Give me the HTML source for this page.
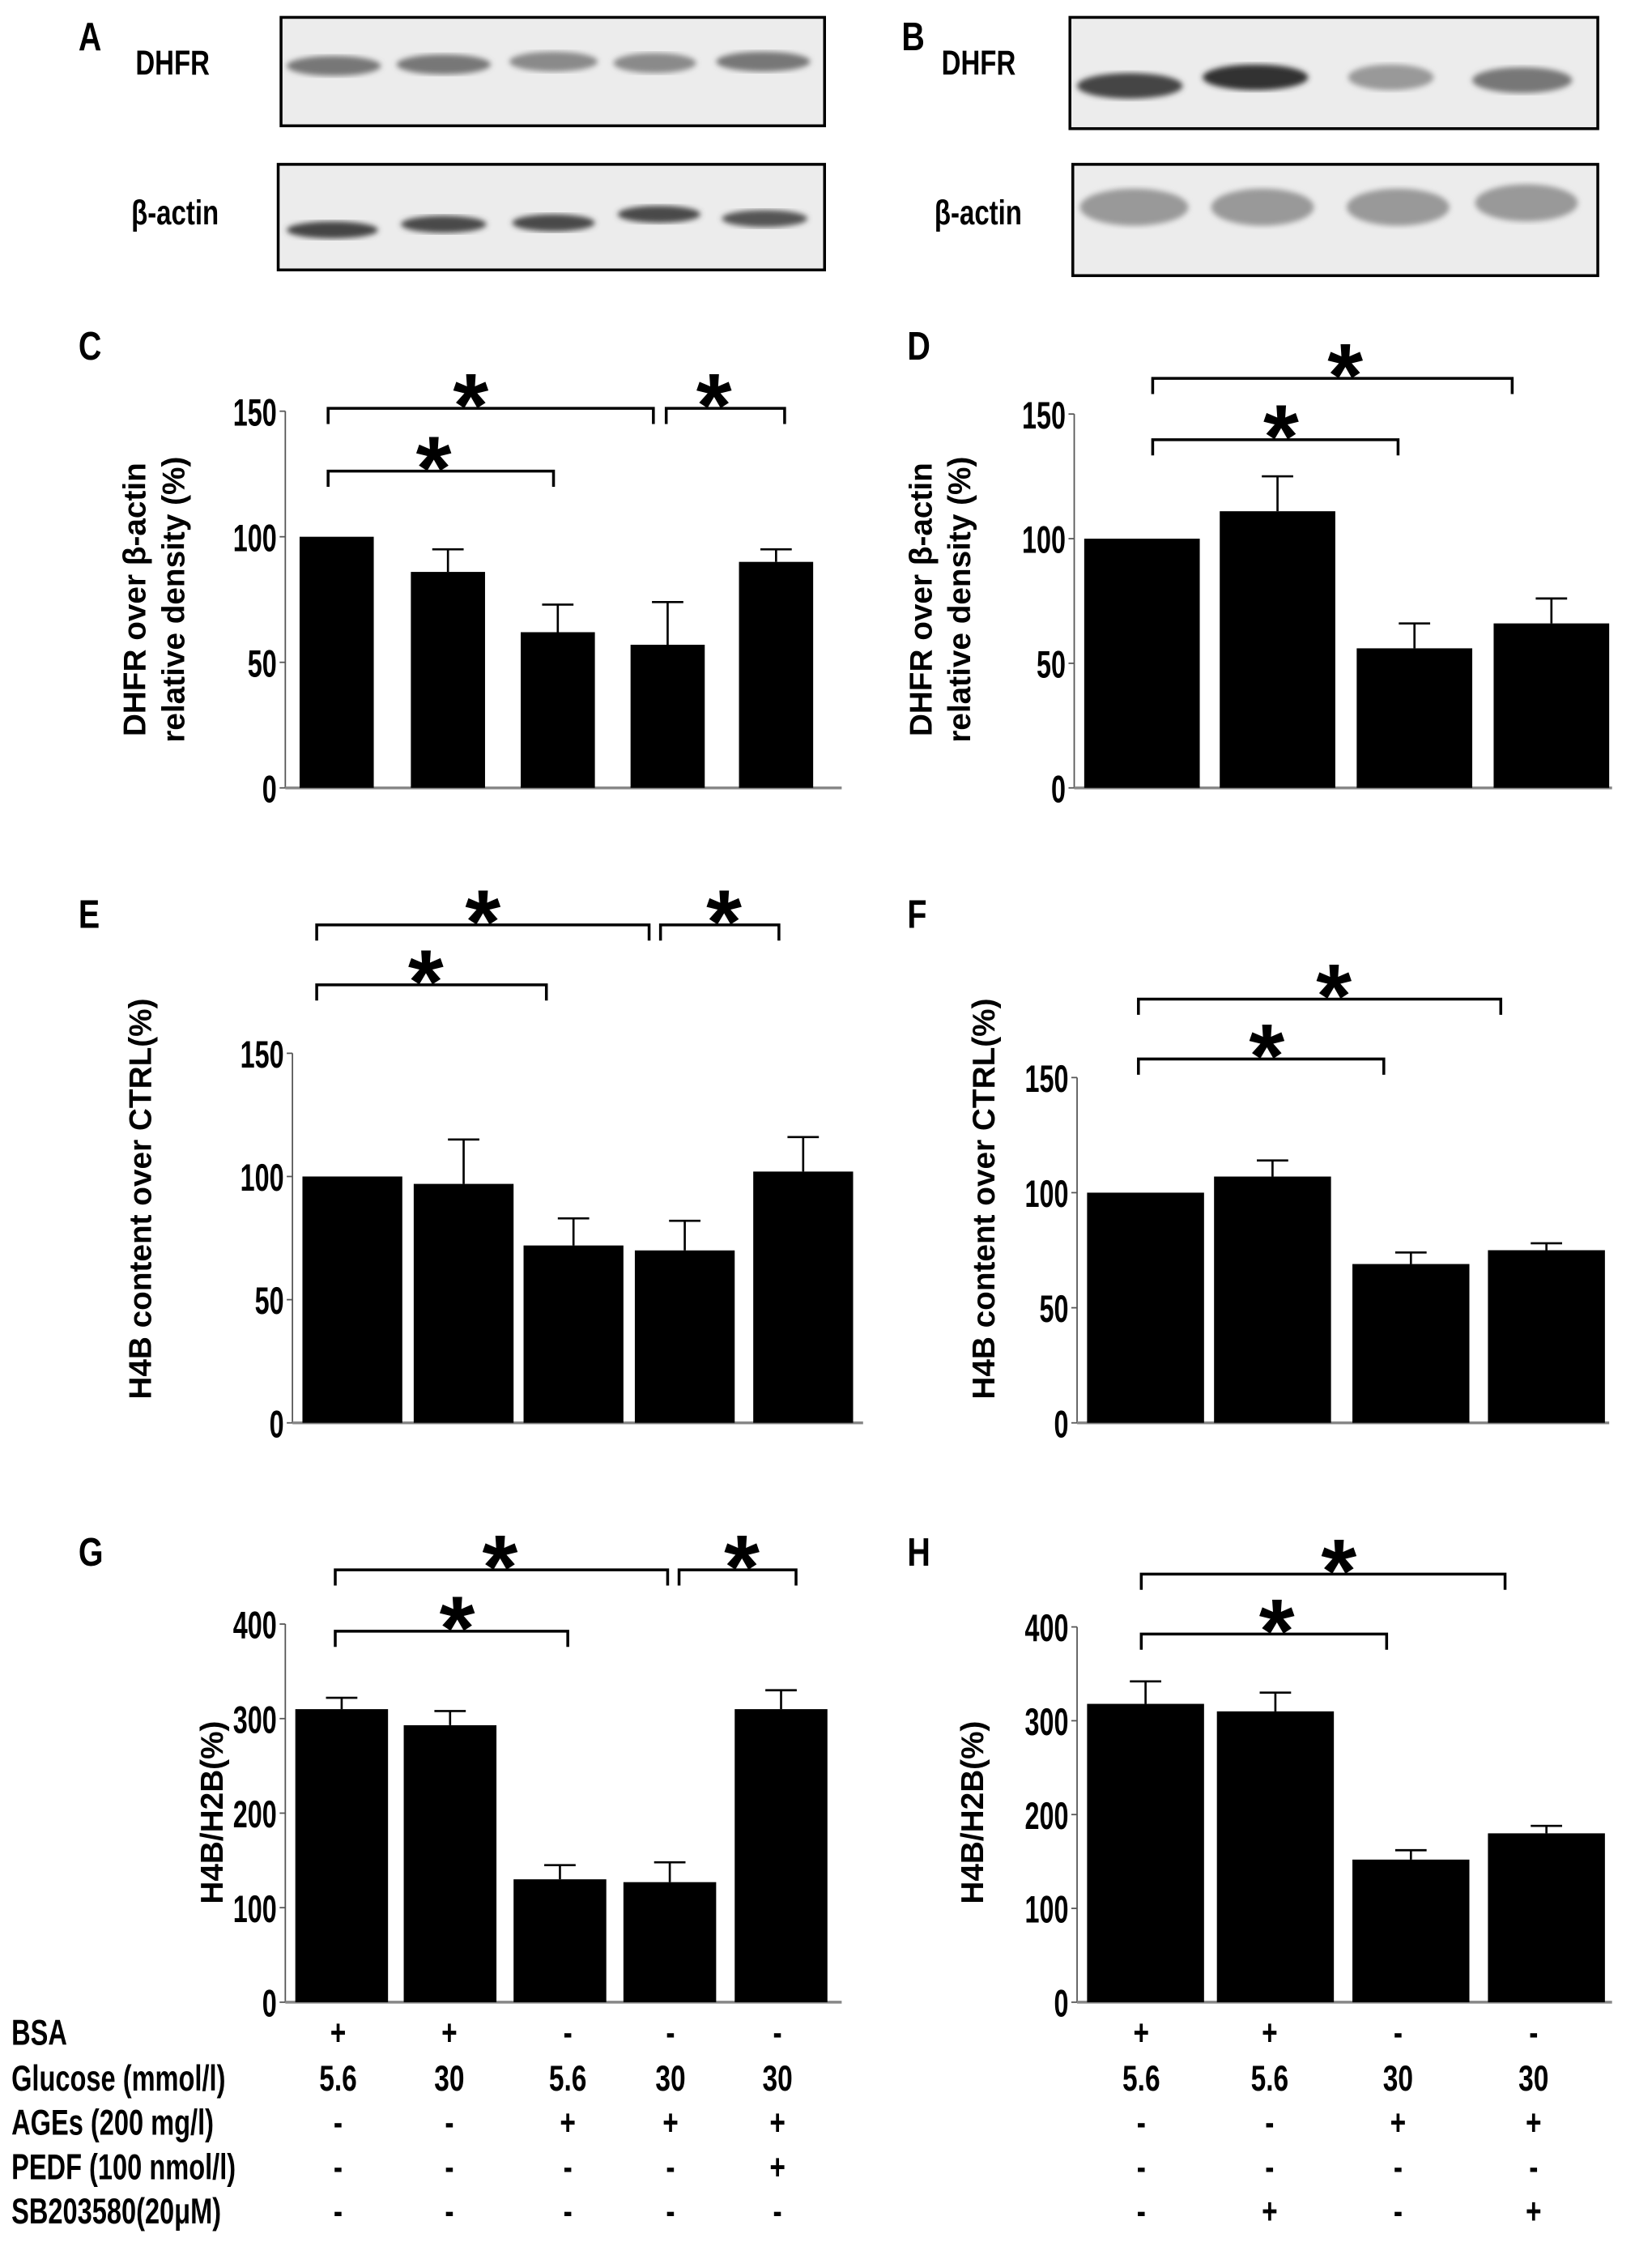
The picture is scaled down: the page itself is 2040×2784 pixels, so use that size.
<!DOCTYPE html>
<html><head><meta charset="utf-8"><style>html,body{margin:0;padding:0;background:#fff}svg{display:block}</style></head>
<body>
<svg id="fig" width="2040" height="2784" viewBox="0 0 1158 1580" xmlns="http://www.w3.org/2000/svg" font-family="Liberation Sans, sans-serif" font-weight="bold">
<defs><filter id="blur"><feGaussianBlur stdDeviation="2"/></filter></defs>
</svg>
<script>
const NS="http://www.w3.org/2000/svg";
const svg=document.getElementById('fig');
function el(tag,attrs,parent){const e=document.createElementNS(NS,tag);for(const k in attrs)e.setAttribute(k,attrs[k]);(parent||svg).appendChild(e);return e;}
function txt(x,y,s,size,anchor,cond,name){
  const t=el('text',{x:x/cond,y:y,'font-size':size,'text-anchor':anchor||'start',transform:'scale('+cond+',1)'});
  t.textContent=s;
  
  
  return t;
}

// ---- Panel data ----
const catsC=["c1","c2","c3","c4","c5"];
const valsC=[100,86,62,57,90];
const errC=[0,95,73,74,95];
const valsD=[100,111,56,66];
const errD=[0,125,66,76];
const valsE=[100,97,72,70,102];
const errE=[0,115,83,82,116];
const valsF=[100,107,69,75];
const errF=[0,114,74,78];
const valsG=[310,293,130,127,310];
const errG=[322,308,145,148,330];
const valsH=[318,310,152,180];
const errH=[342,330,162,188];
const ticks150=[0,50,100,150];
const ticks400=[0,100,200,300,400];

function panel(cfg){
  const g=el('g',{});
  
  
  const y=v=>cfg.y0-(v/cfg.max)*(cfg.y0-cfg.yTop);
  const ya=el('line',{x1:cfg.ax,y1:cfg.yTop,x2:cfg.ax,y2:cfg.y0,stroke:'#555','stroke-width':1},g);
  
  
  const xa=el('line',{x1:cfg.ax,y1:cfg.y0,x2:cfg.xEnd,y2:cfg.y0,stroke:'#888','stroke-width':2},g);
  
  
  cfg.ticks.forEach(t=>{
    const tk=el('line',{x1:cfg.ax-4,y1:y(t),x2:cfg.ax,y2:y(t),stroke:'#555','stroke-width':1},g);
    
    
    txt(cfg.ax-6,y(t)+10,String(t),27,'end',0.68,'y-tick-label');
  });
  cfg.vals.forEach((v,i)=>{
    const bx=cfg.bx[i],bw=cfg.bw;
    const r=el('rect',{x:bx,y:y(v),width:bw,height:cfg.y0-y(v),fill:'#000'},g);
    
    
    const e=cfg.err[i];
    if(e>v){
      const cx=bx+bw/2;
      const l=el('path',{d:`M${cx} ${y(v)}V${y(e)}M${cx-11} ${y(e)}H${cx+11}`,stroke:'#000','stroke-width':1.5,fill:'none'},g);
      
      
    }
  });
  cfg.br.forEach(b=>{
    const p=el('path',{d:`M${b[0]} ${b[2]+11}V${b[2]}H${b[1]}V${b[2]+11}`,stroke:'#000','stroke-width':2,fill:'none'},g);
    
    
    txt((b[0]+b[1])/2+b[3],b[2]+20,'*',64,'middle',1,'significance-star');
  });
  cfg.ylab.forEach((s,i)=>{
    const t=el('text',{x:0,y:0,'font-size':22,'text-anchor':'middle',transform:`translate(${cfg.lx[i]},${cfg.ly}) rotate(-90)`},g);
    t.textContent=s;
    
    
  });
  txt(cfg.L[0],cfg.L[1],cfg.L[2],28,'start',0.8,'panel-letter');
}

panel({name:'panel-c',ax:200,y0:552,yTop:288,max:150,xEnd:590,ticks:ticks150,vals:valsC,err:errC,bx:[210,288,365,442,518],bw:52,
  br:[[230,388,330,-5],[230,458,286,-14],[467,550,286,-8]],ylab:['DHFR over β-actin','relative density (%)'],lx:[102,129],ly:420,L:[55,252,'C']});
panel({name:'panel-d',ax:753,y0:552,yTop:290,max:150,xEnd:1130,ticks:ticks150,vals:valsD,err:errD,bx:[760,855,951,1047],bw:81,
  br:[[808,980,308,4],[808,1060,265,9]],ylab:['DHFR over β-actin','relative density (%)'],lx:[653,680],ly:420,L:[636,252,'D']});
panel({name:'panel-e',ax:205,y0:997,yTop:738,max:150,xEnd:605,ticks:ticks150,vals:valsE,err:errE,bx:[212,290,367,445,528],bw:70,
  br:[[222,383,690,-4],[222,455,648,0],[463,546,648,3]],ylab:['H4B content over CTRL(%)'],lx:[106],ly:840,L:[55,650,'E']});
panel({name:'panel-f',ax:755,y0:997,yTop:755,max:150,xEnd:1128,ticks:ticks150,vals:valsF,err:errF,bx:[762,851,948,1043],bw:82,
  br:[[798,970,742,4],[798,1052,700,10]],ylab:['H4B content over CTRL(%)'],lx:[697],ly:840,L:[636,650,'F']});
panel({name:'panel-g',ax:200,y0:1403,yTop:1138,max:400,xEnd:590,ticks:ticks400,vals:valsG,err:errG,bx:[207,283,360,437,515],bw:65,
  br:[[235,398,1143,4],[235,468,1100,-1],[476,558,1100,3]],ylab:['H4B/H2B(%)'],lx:[156],ly:1270,L:[55,1097,'G']});
panel({name:'panel-h',ax:755,y0:1403,yTop:1140,max:400,xEnd:1130,ticks:ticks400,vals:valsH,err:errH,bx:[762,853,948,1043],bw:82,
  br:[[800,972,1145,9],[800,1055,1103,11]],ylab:['H4B/H2B(%)'],lx:[689],ly:1270,L:[636,1097,'H']});

// ---- Blots ----
function blot(name,x,y,w,h,bands,by,bh,dark){
  const g=el('g',{});
  
  
  const r=el('rect',{x:x,y:y,width:w,height:h,fill:'#ececec',stroke:'#000','stroke-width':2},g);
  
  
  bands.forEach((b,i)=>{
    const e=el('ellipse',{cx:b[0],cy:by+(b[2]||0),rx:b[1],ry:bh,fill:dark[i],filter:'url(#blur)'},g);
    
    
  });
}
blot('blot-a-dhfr',197,12,381,76,[[234,33,0],[311,33,-1],[388,31,-3],[459,29,-2],[535,33,-3]],46,7,['#777','#777','#8a8a8a','#8a8a8a','#777']);
blot('blot-a-actin',195,115,383,74,[[233,32,6],[311,30,2],[388,29,1],[462,29,-5],[536,30,-2]],155,6,['#444','#4a4a4a','#4a4a4a','#4a4a4a','#555']);
blot('blot-b-dhfr',750,12,370,78,[[792,37,4],[880,37,-2],[975,30,-2],[1067,35,0]],56,9,['#444','#333','#999','#777']);
blot('blot-b-actin',752,115,368,78,[[795,38,0],[885,36,0],[980,36,0],[1070,36,-3]],145,13,['#999','#999','#999','#999']);
txt(55,35,'A',28,'start',0.8,'panel-letter');
txt(632,35,'B',28,'start',0.8,'panel-letter');
txt(95,52,'DHFR',24,'start',0.78,'blot-label');
txt(92,157,'β-actin',24,'start',0.78,'blot-label');
txt(660,52,'DHFR',24,'start',0.78,'blot-label');
txt(655,157,'β-actin',24,'start',0.78,'blot-label');

// ---- Treatment table ----
const rowLabels=['BSA','Glucose (mmol/l)','AGEs  (200 mg/l)','PEDF (100 nmol/l)','SB203580(20μM)'];
const tableG=[['+','+','-','-','-'],['5.6','30','5.6','30','30'],['-','-','+','+','+'],['-','-','-','-','+'],['-','-','-','-','-']];
const tableH=[['+','+','-','-'],['5.6','5.6','30','30'],['-','-','+','+'],['-','-','-','-'],['-','+','-','+']];
const rowY=[1433,1465,1496,1527,1558];
const colG=[237,315,398,470,545];
const colH=[800,890,980,1075];
rowLabels.forEach((l,r)=>{
  txt(8,rowY[r],l,25,'start',0.74,'row-label');
  tableG[r].forEach((s,c)=>txt(colG[c],rowY[r],s,25,'middle',0.76,'cell-g'));
  tableH[r].forEach((s,c)=>txt(colH[c],rowY[r],s,25,'middle',0.76,'cell-h'));
});
</script>
</body></html>
